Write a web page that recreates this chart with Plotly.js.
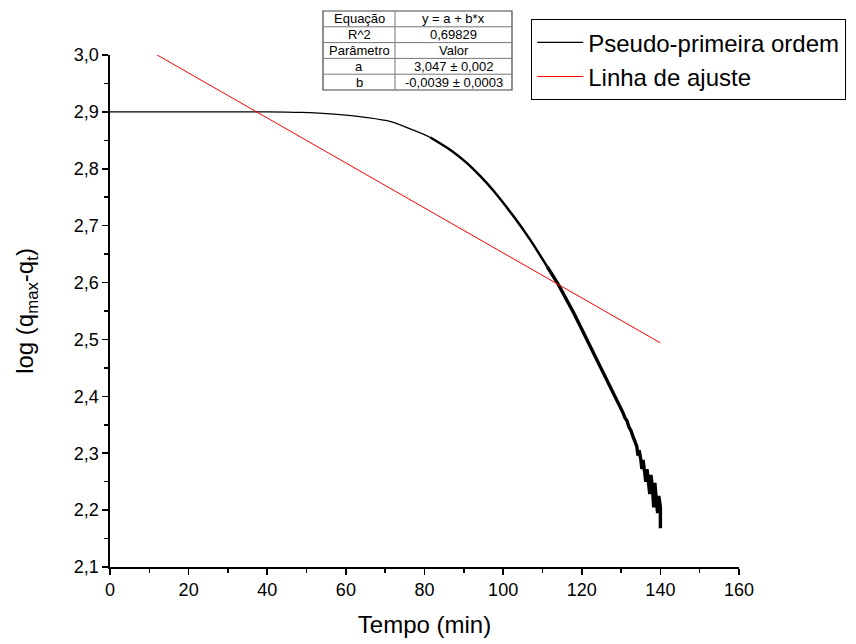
<!DOCTYPE html>
<html>
<head>
<meta charset="utf-8">
<script src="https://cdn.plot.ly/plotly-3.0.1.min.js"></script>
<style>html,body{margin:0;padding:0;background:#fff;}#chart{width:856px;height:644px;}</style>
</head>
<body>
<div id="chart"></div>
<script>
// Pseudo-primeira ordem: thin early segment
var curveX = [0, 20, 40, 48.5, 56.9, 65.4, 71.4, 76.4, 81.5, 86.6];
var curveY = [2.900, 2.900, 2.900, 2.899, 2.896, 2.890, 2.883, 2.870, 2.855, 2.833];
// middle segment (slightly noisy, thicker)
var midX = [81.5, 86.6, 90.8, 94.2, 97.6, 102.7, 106.9, 111.2];
var midY = [2.855, 2.833, 2.810, 2.787, 2.761, 2.716, 2.675, 2.628];
// noisy end segment
var tailX = [111.2, 114.1, 118.0, 121.4, 124.7, 126.4, 128, 128.5, 129, 129.5, 130, 130.5, 131, 131.5, 132, 132.5, 133, 133.5, 134, 134.3, 134.6, 135, 135.3, 135.6, 136, 136.3, 136.6, 137, 137.3, 137.6, 138, 138.3, 138.6, 139, 139.3, 139.6, 140, 140];
var tailY = [2.628, 2.596, 2.546, 2.499, 2.452, 2.428, 2.405, 2.398, 2.392, 2.384, 2.380, 2.371, 2.362, 2.357, 2.346, 2.340, 2.330, 2.319, 2.312, 2.296, 2.305, 2.290, 2.272, 2.288, 2.268, 2.250, 2.272, 2.252, 2.228, 2.262, 2.238, 2.205, 2.248, 2.215, 2.195, 2.225, 2.205, 2.168];
// Linha de ajuste
var fitX = [12, 140];
var fitY = [3.000, 2.494];
// Fit table
var tableLeft = ["Equação", "R^2", "Parâmetro", "a", "b"];
var tableRight = ["y = a + b*x", "0,69829", "Valor", "3,047 ± 0,002", "-0,0039 ± 0,0003"];

var PL = 110, PR = 739, PT = 55, PB = 567;
function px2x(p){ return (p - PL) / (PR - PL); }
function px2y(p){ return (PB - p) / (PB - PT); }

var traces = [
  {x: curveX, y: curveY, mode: 'lines', name: 'Pseudo-primeira ordem', line: {color: '#000', width: 1.3, shape: 'spline', smoothing: 0.8}, legendgroup: 'a'},
  {x: midX, y: midY, mode: 'lines', name: 'Pseudo-primeira ordem', line: {color: '#000', width: 2.5, shape: 'spline', smoothing: 0.8}, legendgroup: 'a', showlegend: false},
  {x: tailX, y: tailY, mode: 'lines', name: 'Pseudo-primeira ordem', line: {color: '#000', width: 3.4}, legendgroup: 'a', showlegend: false},
  {x: fitX, y: fitY, mode: 'lines', name: 'Linha de ajuste', line: {color: '#ff0000', width: 1}}
];

// table geometry
var tL = 323, tM = 395, tR = 512, tT = 11, tB = 90;
var rowH = (tB - tT) / tableLeft.length;
var shapes = [];
var annotations = [];
shapes.push({type: 'rect', xref: 'paper', yref: 'paper', x0: px2x(tL), x1: px2x(tR), y0: px2y(tB), y1: px2y(tT), line: {color: '#444', width: 1.2}, fillcolor: 'rgba(0,0,0,0)'});
shapes.push({type: 'line', xref: 'paper', yref: 'paper', x0: px2x(tM), x1: px2x(tM), y0: px2y(tB), y1: px2y(tT), line: {color: '#777', width: 1}});
for (var i = 0; i < tableLeft.length; i++) {
  if (i > 0) {
    shapes.push({type: 'line', xref: 'paper', yref: 'paper', x0: px2x(tL), x1: px2x(tR), y0: px2y(tT + i * rowH), y1: px2y(tT + i * rowH), line: {color: '#777', width: 1}});
  }
  var cy = px2y(tT + (i + 0.5) * rowH);
  annotations.push({xref: 'paper', yref: 'paper', x: px2x((tL + tM) / 2), y: cy, text: tableLeft[i], showarrow: false, xanchor: 'center', yanchor: 'middle', font: {family: 'Liberation Sans, Arial, sans-serif', size: 13, color: '#000'}});
  annotations.push({xref: 'paper', yref: 'paper', x: px2x((tM + tR) / 2), y: cy, text: tableRight[i], showarrow: false, xanchor: 'center', yanchor: 'middle', font: {family: 'Liberation Sans, Arial, sans-serif', size: 13, color: '#000'}});
}

var layout = {
  width: 856, height: 644,
  margin: {l: PL, r: 856 - PR, t: PT, b: 644 - PB, pad: 0, autoexpand: false},
  paper_bgcolor: '#fff', plot_bgcolor: '#fff',
  separators: ',.',
  font: {family: 'Liberation Sans, Arial, sans-serif', color: '#000'},
  showlegend: true,
  legend: {
    x: px2x(531), y: px2y(19), xanchor: 'left', yanchor: 'top',
    bordercolor: '#000', borderwidth: 1.2, bgcolor: '#fff',
    font: {size: 24, color: '#000'}, tracegroupgap: 0, itemwidth: 46
  },
  xaxis: {
    range: [0, 160], dtick: 20, tick0: 0, automargin: false,
    showgrid: false, zeroline: false, showline: true, linecolor: '#000', linewidth: 1.6,
    ticks: 'outside', ticklen: 6, tickwidth: 1.6, tickcolor: '#000',
    minor: {dtick: 10, ticks: 'outside', ticklen: 4, tickwidth: 1.6, tickcolor: '#000', showgrid: false},
    tickfont: {size: 18, color: '#000'},
    title: {text: 'Tempo (min)', font: {size: 24, color: '#000'}, standoff: 17}
  },
  yaxis: {
    range: [2.1, 3.0], dtick: 0.1, tick0: 2.1, tickformat: '.1f', automargin: false,
    showgrid: false, zeroline: false, showline: true, linecolor: '#000', linewidth: 1.6,
    ticks: 'outside', ticklen: 6, tickwidth: 1.6, tickcolor: '#000',
    minor: {dtick: 0.05, ticks: 'outside', ticklen: 4, tickwidth: 1.6, tickcolor: '#000', showgrid: false},
    tickfont: {size: 18, color: '#000'},
    title: {text: 'log (q<sub>max</sub>-q<sub>t</sub>)', font: {size: 24, color: '#000'}, standoff: 33}
  },
  shapes: shapes,
  annotations: annotations
};

Plotly.newPlot('chart', traces, layout, {displayModeBar: false, staticPlot: true});
</script>
</body>
</html>
